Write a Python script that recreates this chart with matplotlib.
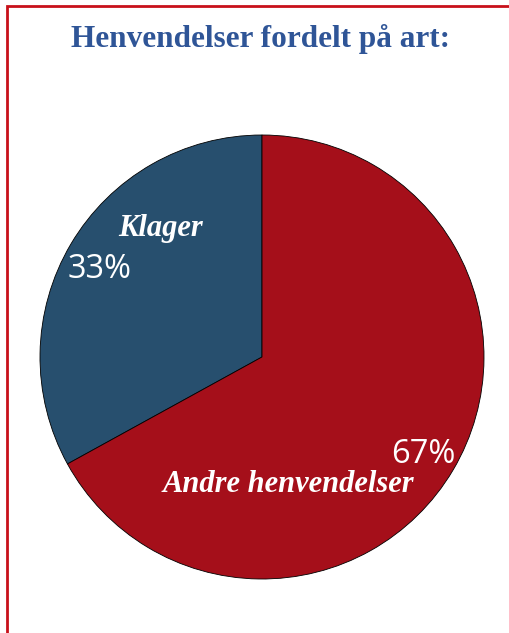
import matplotlib.pyplot as plt
from matplotlib.patches import Rectangle

kategorier = ["Klager", "Andre henvendelser"]
andeler = [33, 67]
prosent_tekst = ["33%", "67%"]
farger = ["#274F6E", "#A50F1A"]

fig = plt.figure(figsize=(5.10, 6.33), dpi=100)

# red frame, open to the right and bottom like the screenshot
fig.patches.append(Rectangle((7 / 510, -0.1), 1.2, 1 - 6 / 633 + 0.1,
                             transform=fig.transFigure, fill=False,
                             edgecolor="#C8101A", linewidth=2))

fig.text(261 / 510, 1 - 39 / 633, "Henvendelser fordelt på art:",
         ha="center", va="center", fontsize=22.5, fontweight="bold",
         family="Liberation Serif", color="#2F5597")

ax = fig.add_axes([40 / 510, 54 / 633, 444 / 510, 444 / 633])
ax.pie(andeler, colors=farger, startangle=90, counterclock=True, radius=1,
       wedgeprops=dict(edgecolor="black", linewidth=0.6))
ax.set_xlim(-1.0, 1.0)
ax.set_ylim(-1.0, 1.0)
ax.set_aspect("equal")
ax.axis("off")

navn_pos = [(-0.459, 0.578), (0.117, -0.575)]
pst_pos = [(-0.730, 0.392), (0.725, -0.441)]
for navn, pst, (nx, ny), (px, py) in zip(kategorier, prosent_tekst, navn_pos, pst_pos):
    ax.text(nx, ny, navn, ha="center", va="center", color="white",
            fontsize=22, fontweight="bold", style="italic",
            family="Liberation Serif")
    ax.text(px, py, pst, ha="center", va="center", color="white",
            fontsize=23.5, family="Open Sans")

fig.savefig("out.png", dpi=100)
